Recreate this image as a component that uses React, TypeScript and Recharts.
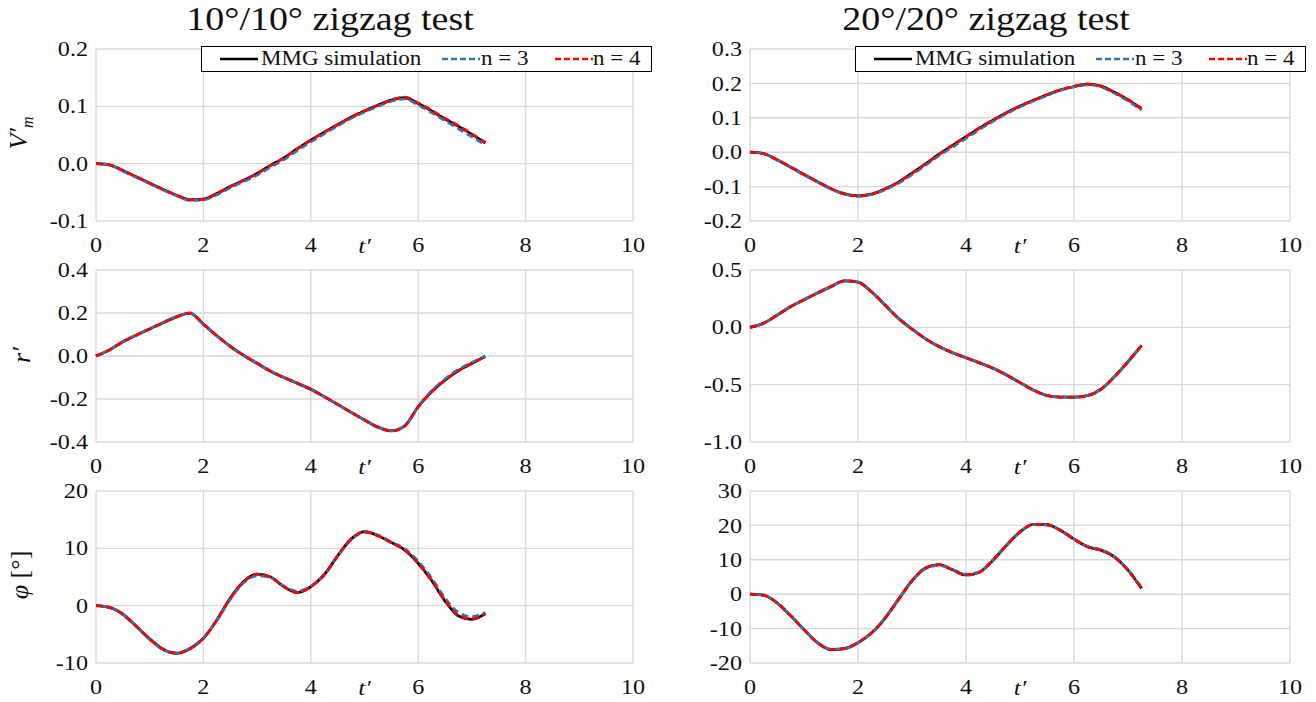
import React from 'react';
import { LineChart, Line, XAxis, YAxis, CartesianGrid, Legend, Label } from 'recharts';

// Non-dimensional time t′ shared by every panel
const tGrid = [
  0, 0.25, 0.5, 0.75, 1, 1.25, 1.5, 1.75, 2, 2.25, 2.5, 2.75, 3, 3.25, 3.5,
  3.75, 4, 4.25, 4.5, 4.75, 5, 5.25, 5.5, 5.75, 6, 6.25, 6.5, 6.75, 7, 7.25,
];

// 10°/10° zigzag — lateral velocity V′m
const vm10Mmg = [0, -0.002, -0.012, -0.023, -0.034, -0.045, -0.055, -0.063, -0.062, -0.052, -0.040, -0.029, -0.017, -0.003, 0.010, 0.026, 0.041, 0.055, 0.068, 0.081, 0.092, 0.102, 0.111, 0.115, 0.105, 0.092, 0.078, 0.065, 0.051, 0.036];
const vm10N3 = [0, -0.002, -0.013, -0.024, -0.035, -0.046, -0.056, -0.064, -0.063, -0.054, -0.042, -0.031, -0.020, -0.006, 0.007, 0.023, 0.038, 0.052, 0.066, 0.079, 0.090, 0.100, 0.109, 0.113, 0.102, 0.089, 0.075, 0.061, 0.047, 0.033];
const vm10N4 = [0, -0.002, -0.012, -0.023, -0.034, -0.045, -0.055, -0.063, -0.062, -0.052, -0.040, -0.029, -0.017, -0.003, 0.010, 0.026, 0.041, 0.055, 0.068, 0.081, 0.092, 0.102, 0.111, 0.116, 0.106, 0.093, 0.079, 0.066, 0.052, 0.037];

// 20°/20° zigzag — lateral velocity V′m
const vm20Mmg = [0, -0.004, -0.022, -0.043, -0.065, -0.086, -0.106, -0.121, -0.127, -0.122, -0.107, -0.087, -0.061, -0.034, -0.006, 0.020, 0.045, 0.070, 0.093, 0.115, 0.134, 0.151, 0.167, 0.181, 0.191, 0.198, 0.192, 0.174, 0.152, 0.126];
const vm20N3 = [0, -0.004, -0.022, -0.044, -0.066, -0.087, -0.107, -0.122, -0.128, -0.123, -0.109, -0.090, -0.065, -0.038, -0.010, 0.015, 0.040, 0.066, 0.090, 0.112, 0.132, 0.149, 0.165, 0.180, 0.190, 0.196, 0.190, 0.171, 0.149, 0.122];
const vm20N4 = [0, -0.004, -0.022, -0.043, -0.065, -0.086, -0.106, -0.121, -0.127, -0.122, -0.107, -0.087, -0.061, -0.034, -0.006, 0.020, 0.046, 0.071, 0.094, 0.115, 0.134, 0.151, 0.167, 0.181, 0.191, 0.198, 0.192, 0.174, 0.153, 0.127];

// 10°/10° zigzag — yaw rate r′
const r10Mmg = [0, 0.028, 0.066, 0.097, 0.126, 0.155, 0.182, 0.199, 0.148, 0.094, 0.045, 0.003, -0.034, -0.071, -0.100, -0.127, -0.155, -0.189, -0.225, -0.262, -0.298, -0.331, -0.348, -0.325, -0.236, -0.166, -0.112, -0.068, -0.034, -0.002];
const r10N3 = [0, 0.029, 0.067, 0.098, 0.127, 0.156, 0.183, 0.199, 0.147, 0.093, 0.044, 0.002, -0.035, -0.070, -0.099, -0.127, -0.156, -0.190, -0.226, -0.262, -0.297, -0.330, -0.347, -0.324, -0.234, -0.162, -0.107, -0.063, -0.030, 0.000];
const r10N4 = [0, 0.028, 0.066, 0.097, 0.126, 0.155, 0.182, 0.200, 0.148, 0.094, 0.045, 0.003, -0.034, -0.071, -0.100, -0.127, -0.155, -0.189, -0.225, -0.262, -0.298, -0.331, -0.349, -0.326, -0.237, -0.167, -0.113, -0.069, -0.035, -0.002];

// 20°/20° zigzag — yaw rate r′
const r20Mmg = [0, 0.035, 0.105, 0.180, 0.240, 0.300, 0.355, 0.405, 0.395, 0.310, 0.195, 0.078, -0.015, -0.100, -0.168, -0.222, -0.265, -0.310, -0.357, -0.415, -0.482, -0.548, -0.595, -0.608, -0.609, -0.595, -0.540, -0.430, -0.300, -0.160];
const r20N3 = [0, 0.035, 0.106, 0.181, 0.241, 0.301, 0.356, 0.405, 0.394, 0.308, 0.193, 0.076, -0.016, -0.100, -0.167, -0.221, -0.264, -0.309, -0.356, -0.414, -0.481, -0.547, -0.594, -0.607, -0.608, -0.594, -0.538, -0.428, -0.298, -0.158];
const r20N4 = [0, 0.035, 0.105, 0.180, 0.240, 0.300, 0.355, 0.405, 0.395, 0.310, 0.195, 0.078, -0.015, -0.100, -0.168, -0.222, -0.265, -0.310, -0.357, -0.415, -0.482, -0.548, -0.595, -0.608, -0.609, -0.595, -0.540, -0.430, -0.300, -0.160];

// 10°/10° zigzag — roll angle φ [°]
const phi10Mmg = [0, -0.3, -1.5, -3.6, -5.8, -7.6, -8.3, -7.5, -5.7, -2.5, 1.3, 4.2, 5.5, 5.0, 3.3, 2.3, 3.3, 5.4, 8.7, 11.6, 12.9, 12.2, 11.0, 9.7, 7.4, 4.4, 0.8, -1.8, -2.4, -1.4];
const phi10N3 = [0, -0.3, -1.5, -3.6, -5.9, -7.7, -8.3, -7.4, -5.6, -2.6, 1.1, 4.0, 5.2, 4.9, 3.4, 2.5, 3.4, 5.3, 8.6, 11.5, 12.8, 12.3, 11.1, 9.9, 7.7, 4.8, 1.3, -1.2, -1.9, -1.2];
const phi10N4 = [0, -0.3, -1.5, -3.6, -5.8, -7.6, -8.3, -7.5, -5.7, -2.5, 1.3, 4.2, 5.5, 5.0, 3.3, 2.3, 3.3, 5.4, 8.7, 11.6, 12.9, 12.2, 11.0, 9.7, 7.4, 4.4, 0.9, -1.7, -2.3, -1.4];

// 20°/20° zigzag — roll angle φ [°]
const phi20Mmg = [0, -0.3, -2.5, -6.2, -10.3, -14.1, -16.1, -15.8, -14.1, -11.3, -7.0, -1.5, 3.9, 7.6, 8.6, 7.1, 5.6, 6.4, 9.9, 14.2, 18.1, 20.3, 20.2, 18.6, 16.0, 13.8, 12.8, 10.8, 7.0, 1.7];
const phi20N3 = [0, -0.3, -2.5, -6.2, -10.3, -14.0, -16.0, -15.8, -14.1, -11.2, -6.9, -1.4, 3.8, 7.4, 8.4, 7.2, 5.8, 6.5, 10.0, 14.3, 18.1, 20.2, 20.1, 18.5, 16.0, 13.9, 12.9, 10.9, 7.0, 1.8];
const phi20N4 = [0, -0.3, -2.5, -6.2, -10.3, -14.1, -16.1, -15.8, -14.1, -11.3, -7.0, -1.5, 3.9, 7.6, 8.6, 7.1, 5.6, 6.4, 9.9, 14.2, 18.1, 20.3, 20.2, 18.6, 16.0, 13.8, 12.8, 10.8, 7.0, 1.7];

const xTicks = [0, 2, 4, 6, 8, 10];
const vm10Ticks = [-0.1, 0, 0.1, 0.2];
const vm20Ticks = [-0.2, -0.1, 0, 0.1, 0.2, 0.3];
const r10Ticks = [-0.4, -0.2, 0, 0.2, 0.4];
const r20Ticks = [-1.0, -0.5, 0, 0.5];
const phi10Ticks = [-10, 0, 10, 20];
const phi20Ticks = [-20, -10, 0, 10, 20, 30];

const legendNames = ['MMG simulation', 'n = 3', 'n = 4'];
const titles = ['10°/10° zigzag test', '20°/20° zigzag test'];
const xAxisName = 't′';

const FONT = '"Liberation Serif", "Times New Roman", serif';
const INK = '#111111';
// the typography of this figure is slightly wide; glyphs are stretched horizontally
const WIDE = 1.15;
const TICK_SIZE = 21;

const SERIES = [
  { key: 'mmg', name: legendNames[0], color: '#000000', dash: undefined as string | undefined, offset: 0 },
  { key: 'n3', name: legendNames[1], color: '#2E75B6', dash: '7 4', offset: 5 },
  { key: 'n4', name: legendNames[2], color: '#FF0000', dash: '7 4', offset: 0 },
];

// legend item placement inside the 451px box: [sample start, text start]
const LEGEND_SLOTS = [
  [18, 59],
  [240, 279],
  [353, 391],
];

const fmt1 = (v: number) => v.toFixed(1);
const fmt0 = (v: number) => String(v);

type PanelDef = {
  id: string;
  left: number;
  top: number;
  w: number;
  h: number;
  mmg: number[];
  n3: number[];
  n4: number[];
  ticks: number[];
  fmt: (v: number) => string;
  legend?: boolean;
};

const LEFT_X = 96;
const RIGHT_X = 750;
const ROW_TOPS = [49, 270, 491];
const PLOT_H = 172;

const panels: PanelDef[] = [
  { id: 'vm10', left: LEFT_X, top: ROW_TOPS[0], w: 537, h: PLOT_H, mmg: vm10Mmg, n3: vm10N3, n4: vm10N4, ticks: vm10Ticks, fmt: fmt1, legend: true },
  { id: 'vm20', left: RIGHT_X, top: ROW_TOPS[0], w: 540, h: PLOT_H, mmg: vm20Mmg, n3: vm20N3, n4: vm20N4, ticks: vm20Ticks, fmt: fmt1, legend: true },
  { id: 'r10', left: LEFT_X, top: ROW_TOPS[1], w: 537, h: PLOT_H, mmg: r10Mmg, n3: r10N3, n4: r10N4, ticks: r10Ticks, fmt: fmt1 },
  { id: 'r20', left: RIGHT_X, top: ROW_TOPS[1], w: 540, h: PLOT_H, mmg: r20Mmg, n3: r20N3, n4: r20N4, ticks: r20Ticks, fmt: fmt1 },
  { id: 'phi10', left: LEFT_X, top: ROW_TOPS[2], w: 537, h: PLOT_H, mmg: phi10Mmg, n3: phi10N3, n4: phi10N4, ticks: phi10Ticks, fmt: fmt0 },
  { id: 'phi20', left: RIGHT_X, top: ROW_TOPS[2], w: 540, h: PLOT_H, mmg: phi20Mmg, n3: phi20N3, n4: phi20N4, ticks: phi20Ticks, fmt: fmt0 },
];

function LegendBox() {
  return (
    <div
      style={{
        position: 'relative',
        width: 451,
        height: 26,
        boxSizing: 'border-box',
        border: '1.5px solid #000',
        background: '#fff',
        fontFamily: FONT,
        fontSize: 20,
        color: INK,
        lineHeight: '23px',
      }}
    >
      {SERIES.map((s, i) => (
        <React.Fragment key={s.key}>
          <svg width={38} height={6} style={{ position: 'absolute', left: LEGEND_SLOTS[i][0], top: 9 }}>
            <line x1={0} y1={3} x2={38} y2={3} stroke={s.color} strokeWidth={2.6} strokeDasharray={s.dash ? '6 3' : undefined} />
          </svg>
          <span
            style={{
              position: 'absolute',
              left: LEGEND_SLOTS[i][1],
              top: 0,
              whiteSpace: 'nowrap',
              transform: `scaleX(${WIDE})`,
              transformOrigin: 'left center',
            }}
          >
            {s.name}
          </span>
        </React.Fragment>
      ))}
    </div>
  );
}

// Serif tick renderers with the figure's wide lettering
function XTick(props: any) {
  const { x, y, payload } = props;
  return (
    <text
      transform={`translate(${x},${y}) scale(${WIDE},1)`}
      dy="0.71em"
      textAnchor="middle"
      style={{ fontFamily: FONT, fontSize: TICK_SIZE, fill: INK }}
    >
      {payload.value}
    </text>
  );
}

function makeYTick(fmt: (v: number) => string) {
  return function YTick(props: any) {
    const { x, y, payload } = props;
    return (
      <text
        transform={`translate(${x},${y}) scale(${WIDE},1)`}
        dy="0.34em"
        textAnchor="end"
        style={{ fontFamily: FONT, fontSize: TICK_SIZE, fill: INK }}
      >
        {fmt(payload.value)}
      </text>
    );
  };
}

function TimeLabel(props: any) {
  const vb = props.viewBox || {};
  const cx = vb.x + vb.width / 2;
  const cy = vb.y + 16;
  return (
    <text
      transform={`translate(${cx},${cy}) scale(${WIDE},1)`}
      dy="0.71em"
      textAnchor="middle"
      style={{ fontFamily: FONT, fontSize: 22, fontStyle: 'italic', fill: INK }}
    >
      {xAxisName}
    </text>
  );
}

function Panel({ p }: { p: PanelDef }) {
  const data = tGrid.map((t, i) => ({ t, mmg: p.mmg[i], n3: p.n3[i], n4: p.n4[i] }));
  const yMin = p.ticks[0];
  const yMax = p.ticks[p.ticks.length - 1];
  const YTick = makeYTick(p.fmt);
  return (
    <div style={{ position: 'absolute', left: p.left - 60, top: p.top - 10 }}>
      <LineChart width={p.w + 80} height={p.h + 50} data={data} margin={{ top: 10, right: 20, bottom: 10, left: 0 }}>
        <CartesianGrid stroke="#D9D9D9" strokeWidth={1.4} />
        <XAxis
          type="number"
          dataKey="t"
          domain={[0, 10]}
          ticks={xTicks}
          interval={0}
          height={30}
          axisLine={false}
          tickLine={false}
          tickSize={0}
          tickMargin={16}
          tick={<XTick />}
        >
          <Label position="center" content={<TimeLabel />} />
        </XAxis>
        <YAxis
          type="number"
          domain={[yMin, yMax]}
          ticks={p.ticks}
          interval={0}
          allowDataOverflow
          width={60}
          axisLine={false}
          tickLine={false}
          tickSize={0}
          tickMargin={8}
          tick={<YTick />}
        />
        {p.legend && (
          <Legend
            layout="horizontal"
            verticalAlign="middle"
            align="center"
            content={() => <LegendBox />}
            wrapperStyle={{ left: 165, top: 7, width: 451, height: 26 }}
          />
        )}
        {SERIES.map((s) => (
          <Line
            key={s.key}
            dataKey={s.key}
            name={s.name}
            type="monotone"
            stroke={s.color}
            strokeWidth={2.8}
            strokeDasharray={s.dash}
            strokeDashoffset={s.offset}
            dot={false}
            activeDot={false}
            isAnimationActive={false}
          />
        ))}
      </LineChart>
    </div>
  );
}

function AxisTitle({ x, y, children }: { x: number; y: number; children: React.ReactNode }) {
  return (
    <div
      style={{
        position: 'absolute',
        left: x,
        top: y,
        transform: 'translate(-50%, -50%) rotate(-90deg)',
        whiteSpace: 'nowrap',
        fontFamily: FONT,
        fontSize: 26,
        color: INK,
        lineHeight: 1,
      }}
    >
      {children}
    </div>
  );
}

export default function App() {
  return (
    <div
      style={{
        position: 'absolute',
        left: 0,
        top: 0,
        width: 1316,
        height: 702,
        background: '#fff',
        overflow: 'hidden',
        fontFamily: FONT,
      }}
    >
      {titles.map((t, i) => (
        <div
          key={t}
          style={{
            position: 'absolute',
            left: i === 0 ? 0 : 656,
            top: 1,
            width: 660,
            textAlign: 'center',
            fontFamily: FONT,
            fontSize: 33,
            color: INK,
            lineHeight: '36px',
            transform: `scaleX(${WIDE})`,
            transformOrigin: 'center',
          }}
        >
          {t}
        </div>
      ))}
      <AxisTitle x={21} y={133}>
        <span style={{ fontStyle: 'italic' }}>
          V′<sub style={{ fontSize: 16 }}>m</sub>
        </span>
      </AxisTitle>
      <AxisTitle x={22} y={355}>
        <span style={{ fontStyle: 'italic' }}>r′</span>
      </AxisTitle>
      <AxisTitle x={20} y={575}>
        <span style={{ fontStyle: 'italic' }}>φ</span> [°]
      </AxisTitle>
      {panels.map((p) => (
        <Panel key={p.id} p={p} />
      ))}
    </div>
  );
}
